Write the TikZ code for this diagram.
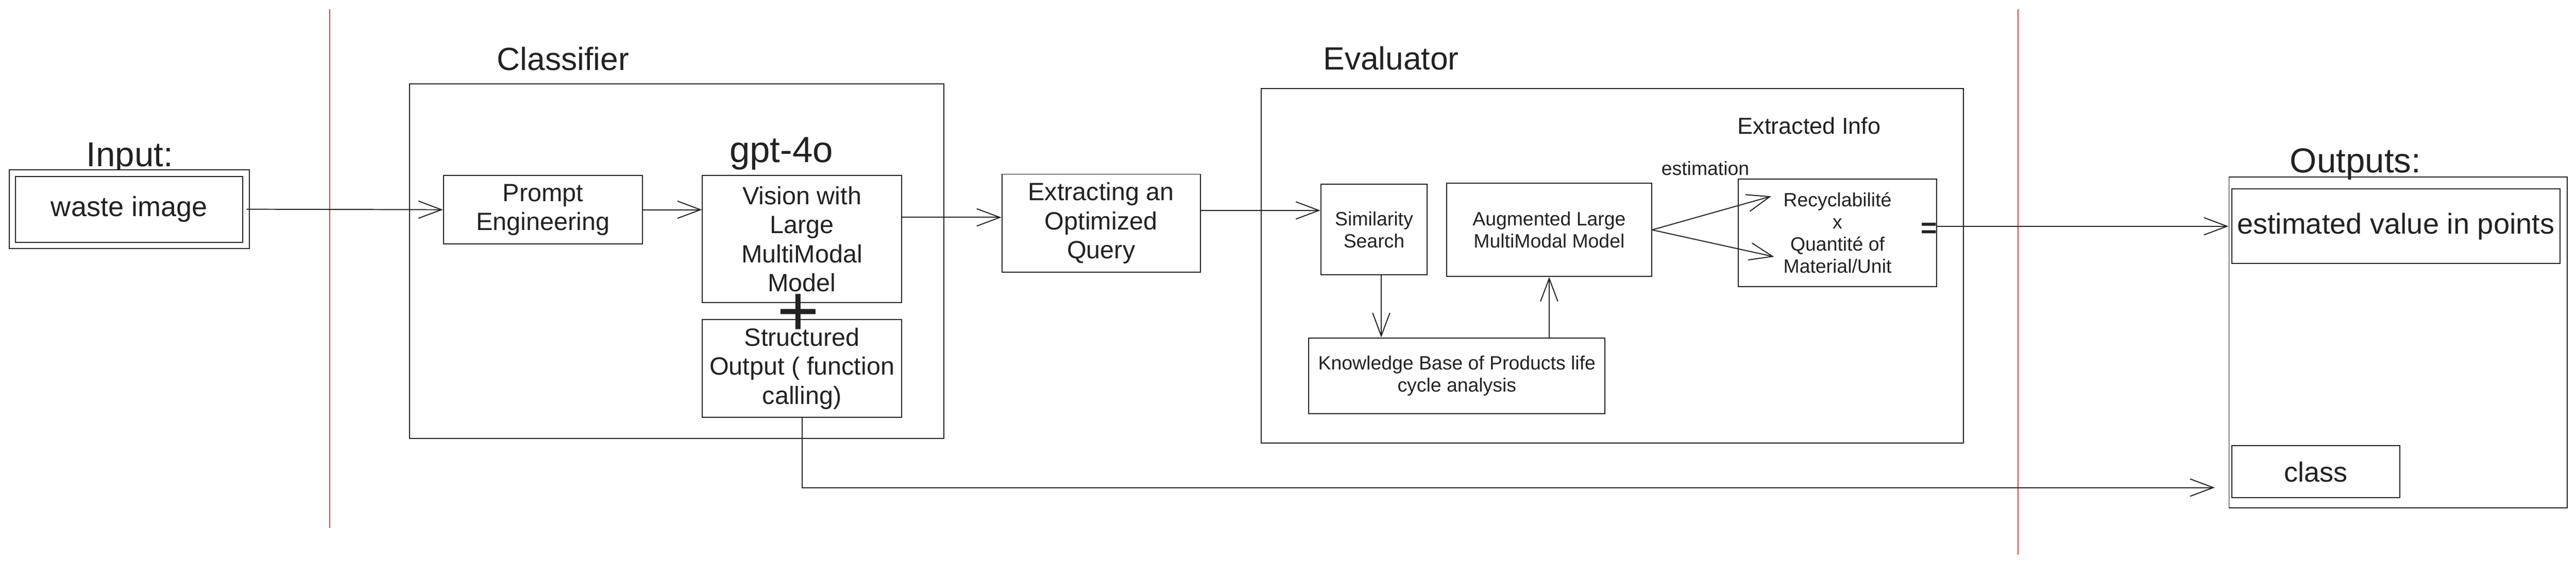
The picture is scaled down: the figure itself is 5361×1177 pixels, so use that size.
\documentclass[tikz,border=0pt]{standalone}
\usepackage{fontspec}
\setmainfont{Liberation Sans}
\usetikzlibrary{arrows.meta}
\definecolor{ink}{HTML}{222222}
\definecolor{sepred}{HTML}{E03C3C}

\begin{document}
\begin{tikzpicture}[x=0.01cm,y=-0.01cm]
\tikzstyle{every node}=[font=\fontsize{14.8pt}{17.2pt}\selectfont, text=ink]
\tikzstyle{block}=[draw=ink, line width=0.6pt, align=center, inner sep=0pt]
\tikzstyle{smalltext}=[font=\fontsize{11.4pt}{13.1pt}\selectfont]
\tikzstyle{title}=[font=\fontsize{19pt}{22pt}\selectfont, anchor=base]
\tikzstyle{arr}=[draw=ink, line width=0.6pt, -{Straight Barb[length=0.48cm,width=0.36cm]}]
\tikzstyle{separator}=[draw=sepred, line width=0.6pt]

\useasboundingbox (0,0) rectangle (5361,1177);

% separators
\draw[separator] (686,19) -- (686,1100);
\draw[separator] (4200,19) -- (4200,1156);

% input
\node[title, font=\fontsize{20.5pt}{24pt}\selectfont] (Input label) at (270,347) {Input:};
\node[block, double, double distance=1.1mm, minimum width=4.855cm, minimum height=1.505cm, font=\fontsize{16.5pt}{19pt}\selectfont] (Input) at (269,436) {waste image};

% classifier
\node[title] (Classifier label) at (1172,146) {Classifier};
\node[block, minimum width=11.11cm, minimum height=7.38cm] (Classifier) at (1408.5,544) {};
\node[block, minimum width=4.14cm, minimum height=1.42cm] (Prompt) at (1130,437) {Prompt\\Engineering};
\node[block, minimum width=4.14cm, minimum height=2.64cm] (Vision) at (1669,498) {Vision with\\Large\\MultiModal\\Model};
\node[title, font=\fontsize{21.6pt}{25pt}\selectfont] (GPT) at (1626,338) {gpt-4o};
\node[block, minimum width=4.14cm, minimum height=2.04cm] (Structured) at (1669,768) {Structured\\Output ( function\\calling)};
\node[anchor=base, inner sep=0pt, text height=0.6em, text depth=-0.11em, font=\fontsize{42.7pt}{48pt}\selectfont] (Plus) at (1661,700) {+};

% evaluator
\node[title] (Evaluator label) at (2895,145) {Evaluator};
\node[block, minimum width=14.61cm, minimum height=7.38cm] (Evaluator) at (3355.5,554) {};
\node[block, minimum width=4.13cm, minimum height=2.04cm] (Query) at (2291.5,465) {Extracting an\\Optimized\\Query};
\node[block, smalltext, minimum width=2.21cm, minimum height=1.89cm] (Similarity) at (2859.5,478.5) {Similarity\\Search};
\node[block, smalltext, minimum width=4.26cm, minimum height=1.94cm] (Augmented) at (3224,479) {Augmented Large\\MultiModal Model};
\node[block, smalltext, minimum width=6.16cm, minimum height=1.58cm] (Knowledge) at (3032,783) {Knowledge Base of Products life\\cycle analysis};
\node[anchor=base, font=\fontsize{13.7pt}{16pt}\selectfont] (Extracted label) at (3765,279) {Extracted Info};
\node[anchor=base, smalltext] (Estimation label) at (3549,365) {estimation};
\node[block, smalltext, minimum width=4.12cm, minimum height=2.24cm] (Recyc) at (3824,485) {Recyclabilité\\x\\Quantité of\\Material/Unit};
\node[anchor=base, font=\bfseries\fontsize{16.5pt}{19pt}\selectfont] (Equals) at (4015,495) {=};

% outputs
\node[title, font=\fontsize{20.5pt}{24pt}\selectfont] (Outputs label) at (4902,360) {Outputs:};
\node[block, minimum width=7.03cm, minimum height=6.89cm] (Outputs) at (4990.5,713.5) {};
\node[block, minimum width=6.82cm, minimum height=1.55cm, font=\fontsize{17.07pt}{20pt}\selectfont] (Estimated) at (4986,471.5) {estimated value in points};
\node[block, minimum width=3.49cm, minimum height=1.08cm, font=\fontsize{16.5pt}{19pt}\selectfont] (Class) at (4819.5,983) {class};

% connectors
\coordinate (query in) at ([yshift=1.2mm]Query.west);
\coordinate (similarity in) at ([yshift=4mm]Similarity.west);
\coordinate (knowledge in) at ([xshift=1.5mm]Similarity.south);
\coordinate (recyc tip) at (3686,409);
\coordinate (quantity tip) at (3692,535);
\coordinate (class in) at (4609,1016);

\draw[arr] (Input.east) -- (Prompt.west);
\draw[arr] (Prompt.east) -- (Prompt.east -| Vision.west);
\draw[arr] (Vision.east |- query in) -- (query in);
\draw[arr] (Query.east |- similarity in) -- (similarity in);
\draw[arr] (knowledge in) -- (knowledge in |- Knowledge.north);
\draw[arr] (Knowledge.north -| Augmented.south) -- (Augmented.south);
\draw[arr] (Augmented.east) -- (recyc tip);
\draw[arr] (Augmented.east) -- (quantity tip);
\draw[arr] (Recyc.east |- Estimated.west) -- (Outputs.west |- Estimated.west);
\draw[arr] (Structured.south) |- (class in);
\end{tikzpicture}
\end{document}
